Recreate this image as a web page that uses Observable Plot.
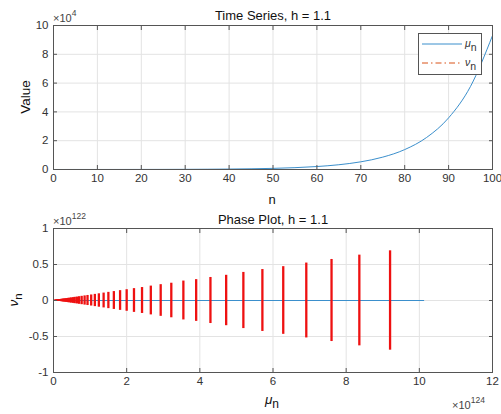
<!DOCTYPE html>
<html><head><meta charset="utf-8">
<script src="https://cdn.jsdelivr.net/npm/d3@7"></script>
<script src="https://cdn.jsdelivr.net/npm/@observablehq/plot@0.6"></script>
<style>
body{margin:0;background:#fff;}
#c{width:501px;}
#c svg{display:block;}
</style>
</head><body><div id="c"></div>
<script>
// ---- Time series (top) ----
const tsN  = [0, 5, 10, 15, 20, 25, 30, 35, 40, 45, 50, 55, 60, 65, 70, 75, 80, 85, 90, 95, 100];
const tsMu = [7, 11, 17, 28, 45, 73, 118, 190, 305, 492, 792, 1276, 2055, 3309, 5330, 8584, 13824, 22263, 35855, 57745, 93000];
const tsNu = [0, 0, 0, 0, 0, 0, 0, 0, 0, 0, 0, 0, 0, 0, 0, 0, 0, 0, 0, 0, 0];
const tsXTicks = [0, 10, 20, 30, 40, 50, 60, 70, 80, 90, 100];
const tsYTicks = [0, 20000, 40000, 60000, 80000, 100000];

// ---- Phase plot (bottom), mu in units of 1e124, nu in units of 1e122 ----
const phMu  = [9.20, 8.36, 7.60, 6.91, 6.28, 5.71, 5.19, 4.72, 4.29, 3.90, 3.55, 3.22, 2.93, 2.66, 2.42, 2.20, 2.00, 1.82, 1.65, 1.50, 1.37, 1.24, 1.13, 1.03, 0.93, 0.85, 0.77, 0.70, 0.64, 0.58, 0.53, 0.48, 0.44, 0.40, 0.36, 0.33, 0.30, 0.27, 0.25, 0.22, 0.20, 0.18, 0.17, 0.15, 0.14, 0.13, 0.11, 0.10, 0.09, 0.08, 0.07, 0.06, 0.05, 0.04, 0.03, 0.02, 0.01];
const phAmp = [0.69, 0.63, 0.57, 0.52, 0.47, 0.43, 0.39, 0.35, 0.32, 0.29, 0.27, 0.24, 0.22, 0.20, 0.18, 0.165, 0.15, 0.137, 0.124, 0.113, 0.103, 0.093, 0.085, 0.077, 0.070, 0.064, 0.058, 0.053, 0.048, 0.044, 0.040, 0.036, 0.033, 0.030, 0.027, 0.025, 0.023, 0.020, 0.019, 0.017, 0.015, 0.014, 0.013, 0.011, 0.011, 0.010, 0.008, 0.008, 0.007, 0.006, 0.005, 0.005, 0.004, 0.003, 0.002, 0.002, 0.001];
const phLineMu = [0, 10.12];
const phLineNu = [0, 0];
const phXTicks = [0, 2, 4, 6, 8, 10, 12];
const phYTicks = [-1, -0.5, 0, 0.5, 1];

const FONT = "'Liberation Sans', Arial, Helvetica, sans-serif";
const TXT = "#333333", FRAME = "#555555", GRID = "#e3e3e3";
const BLUE = "#3b8fcc", ORANGE = "#d95319";

function frameMarks(xt, yt, xf, yf) {
  return [
    Plot.axisX(xt, {anchor: "bottom", tickSize: 0, tickPadding: 4, tickFormat: xf, label: null, color: TXT, fontSize: 11.5}),
    Plot.axisY(yt, {anchor: "left", tickSize: 0, tickPadding: 5, tickFormat: yf, label: null, color: TXT, fontSize: 11.5}),
    Plot.axisX(xt, {anchor: "bottom", tickSize: 4, dy: -4, tickFormat: () => "", label: null, stroke: FRAME}),
    Plot.axisX(xt, {anchor: "top", tickSize: 4, dy: 4, tickFormat: () => "", label: null, stroke: FRAME}),
    Plot.axisY(yt, {anchor: "left", tickSize: 4, dx: 4, tickFormat: () => "", label: null, stroke: FRAME}),
    Plot.axisY(yt, {anchor: "right", tickSize: 4, dx: -4, tickFormat: () => "", label: null, stroke: FRAME}),
    Plot.frame({stroke: FRAME, strokeWidth: 1})
  ];
}

const topChart = Plot.plot({
  width: 501, height: 207,
  marginTop: 25, marginBottom: 38, marginLeft: 53, marginRight: 9,
  style: {fontFamily: FONT, fontSize: "11.5px", background: "#fff"},
  x: {domain: [0, 100], axis: null},
  y: {domain: [0, 100000], axis: null},
  marks: [
    Plot.gridX(tsXTicks, {stroke: GRID, strokeOpacity: 1}),
    Plot.gridY(tsYTicks, {stroke: GRID, strokeOpacity: 1}),
    Plot.line(tsN.map((n, i) => ({n, v: tsNu[i]})), {x: "n", y: "v", stroke: ORANGE, strokeWidth: 1, strokeDasharray: "6,3,1.5,3"}),
    Plot.line(tsN.map((n, i) => ({n, v: tsMu[i]})), {x: "n", y: "v", stroke: BLUE, strokeWidth: 1, curve: "monotone-x"}),
    ...frameMarks(tsXTicks, tsYTicks, d => String(d), d => String(d / 1e4)),
    Plot.text(["Time Series, h = 1.1"], {frameAnchor: "top", dy: -6, lineAnchor: "bottom", fontSize: 13, fill: "#111"})
  ]
});

const bottomChart = Plot.plot({
  width: 501, height: 207,
  marginTop: 21, marginBottom: 42, marginLeft: 53, marginRight: 9,
  style: {fontFamily: FONT, fontSize: "11.5px", background: "#fff"},
  x: {domain: [0, 12], axis: null},
  y: {domain: [-1, 1], axis: null},
  marks: [
    Plot.gridX(phXTicks, {stroke: GRID, strokeOpacity: 1}),
    Plot.gridY(phYTicks, {stroke: GRID, strokeOpacity: 1}),
    Plot.line(phLineMu.map((m, i) => ({m, v: phLineNu[i]})), {x: "m", y: "v", stroke: BLUE, strokeWidth: 1}),
    Plot.ruleX(phMu.map((m, i) => ({m, a: phAmp[i]})), {x: "m", y1: d => -d.a, y2: d => d.a, stroke: "#ee1111", strokeWidth: 2.3}),
    ...frameMarks(phXTicks, phYTicks, d => String(d), d => String(d)),
    Plot.text(["Phase Plot, h = 1.1"], {frameAnchor: "top", dy: -5, lineAnchor: "bottom", fontSize: 13, fill: "#111"})
  ]
});

document.getElementById("c").append(topChart, bottomChart);

function addText(svg, x, y, parts, opts = {}) {
  const t = d3.select(svg).append("text")
    .attr("x", x).attr("y", y)
    .attr("font-family", FONT)
    .attr("font-size", opts.size || 11)
    .attr("fill", opts.fill || TXT)
    .attr("text-anchor", opts.anchor || "start");
  if (opts.rotate) t.attr("transform", `rotate(${opts.rotate},${x},${y})`);
  for (const p of parts) {
    const s = t.append("tspan").text(p.t);
    if (p.italic) s.attr("font-style", "italic");
    if (p.dy) s.attr("dy", p.dy);
    if (p.size) s.attr("font-size", p.size);
  }
  return t;
}

// top overlays
addText(topChart, 53, 22, [{t: "×10", size: 11}, {t: "4", dy: -6, size: 8.5}], {fill: "#444"});
addText(topChart, 30, 97, [{t: "Value"}], {size: 13.5, anchor: "middle", rotate: -90, fill: "#111"});
addText(topChart, 272, 204, [{t: "n"}], {size: 13, anchor: "middle", fill: "#111"});
// legend
const g = d3.select(topChart).append("g");
g.append("rect").attr("x", 418.5).attr("y", 33.5).attr("width", 63).attr("height", 41)
  .attr("fill", "#fff").attr("stroke", FRAME).attr("stroke-width", 1);
g.append("line").attr("x1", 422).attr("x2", 462).attr("y1", 44).attr("y2", 44).attr("stroke", BLUE).attr("stroke-width", 1);
g.append("line").attr("x1", 422).attr("x2", 462).attr("y1", 63).attr("y2", 63).attr("stroke", ORANGE).attr("stroke-width", 1).attr("stroke-dasharray", "6,3,1.5,3");
addText(topChart, 465, 47, [{t: "μ", italic: true}, {t: "n", dy: 4, size: 10.5}], {size: 10.5});
addText(topChart, 465, 66, [{t: "ν", italic: true}, {t: "n", dy: 4, size: 10.5}], {size: 10.5});

// bottom overlays
addText(bottomChart, 53, 18, [{t: "×10", size: 11}, {t: "122", dy: -6, size: 8.5}], {fill: "#444"});
addText(bottomChart, 18, 93, [{t: "ν", italic: true}, {t: "n", dy: 4, size: 11.5}], {size: 13.5, anchor: "middle", rotate: -90, fill: "#111"});
addText(bottomChart, 272, 197, [{t: "μ", italic: true}, {t: "n", dy: 4, size: 12}], {size: 13.5, anchor: "middle", fill: "#111"});
addText(bottomChart, 452, 202, [{t: "×10", size: 11}, {t: "124", dy: -6, size: 8.5}], {fill: "#444"});
</script>
</body></html>
